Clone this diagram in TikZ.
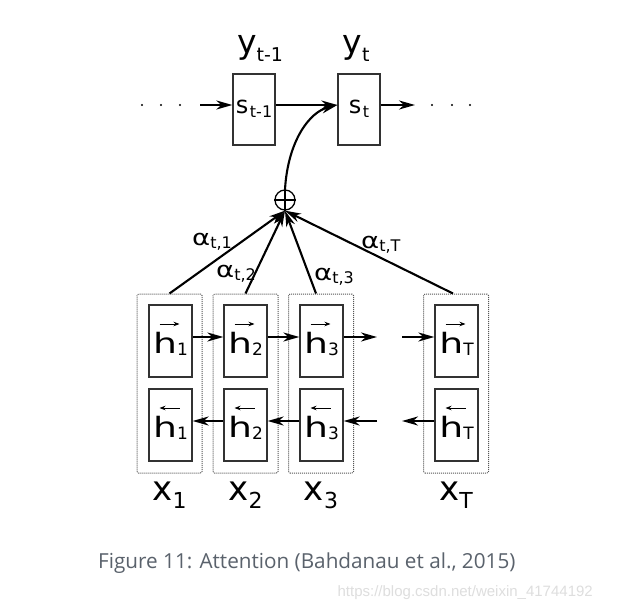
\documentclass[tikz,border=0pt]{standalone}
\usepackage{fontspec}
\setmainfont{DejaVu Sans}
\newfontfamily\capfont{Open Sans}
\newfontfamily\wmfont{Liberation Sans}
\usetikzlibrary{arrows.meta}
\definecolor{boxgray}{RGB}{50,50,50}
\definecolor{dotgray}{RGB}{85,85,85}
\definecolor{capgray}{RGB}{90,98,108}
\definecolor{wmgray}{RGB}{222,222,222}
\newcommand{\fs}[1]{\fontsize{#1}{#1}\selectfont}
\newcommand{\wide}[2]{\scalebox{#1}[1]{#2}}
\begin{document}
\begin{tikzpicture}[x=1pt,y=-1pt,
  conn/.style={line width=2.1pt,-{Stealth[length=16pt,width=9pt,inset=5pt]}},
  sbox/.style={draw=boxgray,line width=1.3pt,minimum width=42pt,minimum height=71pt,inner sep=0pt},
  hbox/.style={draw=boxgray,line width=1.3pt,minimum width=43pt,minimum height=72pt,inner sep=0pt},
  dbox/.style={draw=dotgray,line width=1pt,densely dotted,rounded corners=1.5pt,minimum width=65pt,minimum height=179pt,inner sep=0pt},
  lab/.style={inner sep=0pt,anchor=base},
  vecf/.style={line width=0.9pt,-{Stealth[length=6pt,width=4.5pt]}},
  vecb/.style={line width=0.9pt,{Stealth[length=6pt,width=4.5pt]}-},
  dotm/.style={fill=black}
]
\useasboundingbox[fill=white] (0,0) rectangle (634,610);

% decoder states
\node[sbox] (s1) at (254,109.5) {};
\node[sbox] (s2) at (359,109.5) {};
\node[lab] (ls1) at ([yshift=-3.5pt]s1.center) {{\fs{24}s}\,\raisebox{-4pt}{\fs{16}t-1}};
\node[lab] (ls2) at ([yshift=-3.5pt]s2.center) {{\fs{24}s}\,\raisebox{-4pt}{\fs{16}t}};
\node[lab] (y1) at (260,53) {{\fs{33}y}\raisebox{-8pt}{\fs{19}t-1}};
\node[lab] (y2) at (356,53) {{\fs{33}y}\raisebox{-8pt}{\fs{19}t}};

\coordinate (lin) at (200,105);
\coordinate (rout) at (415,105);
\foreach \x in {142,161,180,432,452,470} \fill[dotm] (\x,105) circle (1.2pt);
\draw[conn] (lin) -- (lin -| s1.west);
\draw[conn] ([yshift=4.5pt]s1.east) -- ([yshift=4.5pt]s2.west);
\draw[conn] ([yshift=4.5pt]s2.east) -- (rout);

% sum
\node[circle,draw=black,line width=1.3pt,minimum size=20pt,inner sep=0pt] (sum) at (285,200) {};
\draw[line width=1.3pt] (sum.north) -- (sum.south) (sum.west) -- (sum.east);
\draw[conn] (sum.north) .. controls (288,140) and (310,112) .. ([yshift=4.5pt]s2.west);

% encoder columns
\foreach \n/\cx in {1/169.5,2/245.5,3/321,T/456}{
  \node[dbox] (d\n) at (\cx,383.5) {};
}
\foreach \n/\cx in {1/170.5,2/245.5,3/321.5,T/456.5}{
  \node[hbox] (f\n) at (\cx,341) {};
  \node[hbox] (b\n) at (\cx,425) {};
  \node[lab] (lf\n) at ([yshift=-12pt]f\n.center) {\wide{1.35}{\fs{28}h}\raisebox{-2pt}{\fs{17}\n}};
  \node[lab] (lb\n) at ([yshift=-12pt]b\n.center) {\wide{1.35}{\fs{28}h}\raisebox{-2pt}{\fs{17}\n}};
  \draw[vecf] ([xshift=-11pt,yshift=17pt]f\n.center) -- ([xshift=9pt,yshift=17pt]f\n.center);
  \draw[vecb] ([xshift=-11pt,yshift=17pt]b\n.center) -- ([xshift=9pt,yshift=17pt]b\n.center);
  \node[lab] (x\n) at ([yshift=-116.5pt]d\n.center) {{\fs{34}x}\raisebox{-8pt}{\fs{22}\n}};
}

% recurrent arrows
\coordinate (fo3) at (377,337);
\coordinate (fiT) at (402,337);
\coordinate (bi3) at (377,421);
\coordinate (boT) at (402,421);
\draw[conn] ([yshift=4pt]f1.east) -- ([yshift=4pt]f2.west);
\draw[conn] ([yshift=4pt]f2.east) -- ([yshift=4pt]f3.west);
\draw[conn] ([yshift=4pt]f3.east) -- (fo3);
\draw[conn] (fiT) -- ([yshift=4pt]fT.west);
\draw[conn] ([yshift=4pt]b2.west) -- ([yshift=4pt]b1.east);
\draw[conn] ([yshift=4pt]b3.west) -- ([yshift=4pt]b2.east);
\draw[conn] (bi3) -- ([yshift=4pt]b3.east);
\draw[conn] ([yshift=4pt]bT.west) -- (boT);

% attention
\draw[conn] (d1.north) -- (sum.south);
\draw[conn] (d2.north) -- (sum.south);
\draw[conn] ([xshift=-5pt]d3.north) -- (sum.south);
\draw[conn] ([xshift=-3pt]dT.north) -- (sum.south);
\node[lab,anchor=base west] (a1) at (192,245) {\wide{1.25}{\fs{22}α}\raisebox{-3pt}{\fs{16}t,1}};
\node[lab,anchor=base west] (a2) at (216,277) {\wide{1.25}{\fs{22}α}\raisebox{-3pt}{\fs{16}t,2}};
\node[lab,anchor=base west] (a3) at (314,280) {\wide{1.25}{\fs{22}α}\raisebox{-3pt}{\fs{16}t,3}};
\node[lab,anchor=base west] (aT) at (361,248) {\wide{1.25}{\fs{22}α}\raisebox{-3pt}{\fs{16}t,T}};

% caption
\node[lab,anchor=base west] (cap) at (98,568) {\capfont\fs{20.7}\color{capgray}Figure 11: Attention (Bahdanau et al., 2015)};
\node[lab,anchor=base east] (wm) at (593,596) {\wmfont\fs{15}\color{wmgray}https://blog.csdn.net/weixin\_41744192};
\end{tikzpicture}
\end{document}
